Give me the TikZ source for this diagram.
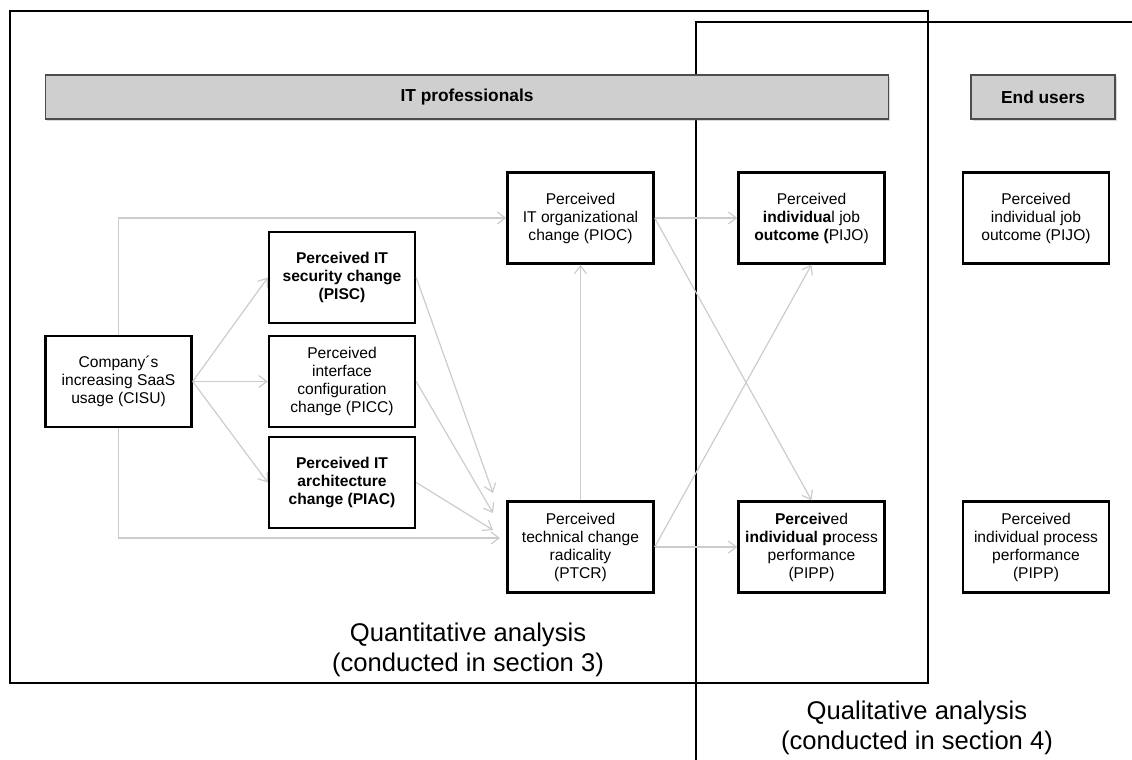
\documentclass[tikz,border=0pt]{standalone}
\usepackage{fontspec}
\setmainfont{Liberation Sans}
\usetikzlibrary{arrows.meta,shadows}

\begin{document}
\begin{tikzpicture}[x=0.75pt,y=-0.75pt]
          \tikzstyle{every node}=[font=\fontsize{11.7}{13.5}\selectfont]
          \tikzstyle{factor}=[draw,line width=1.8pt,fill=white,align=center,inner sep=1pt,
                              minimum width=109.5pt,minimum height=68.25pt,
                              drop shadow={shadow xshift=1pt,shadow yshift=-1pt,opacity=0.2}]
          \tikzstyle{header}=[draw=black!70,line width=0.8pt,fill=black!19,minimum height=33pt,
                              font=\bfseries\fontsize{13}{15}\selectfont,
                              drop shadow={shadow xshift=1.2pt,shadow yshift=-1.2pt,opacity=0.3}]
          \tikzstyle{frame}=[line width=1.5pt]
          \tikzstyle{link}=[draw=black!20,line width=0.9pt,-{Straight Barb[length=6pt,width=9pt]}]
          \tikzstyle{caption}=[font=\fontsize{19.2}{23}\selectfont,align=center]
          \useasboundingbox (0,0) rectangle (1132,760);
          % analysis frames
          \draw[frame] (10,11) rectangle (928,683);
          \draw[frame] (696,760) -- (696,22) -- (1132,22);
          % groups
          \node[header,minimum width=632pt] (itpro) at (467,97) {IT professionals};
          \node[header,minimum width=108pt] (endusers) at (1043,97) {End users};
          % constructs
          \node[factor] (CISU) at (118.5,381.5) {Company´s\\increasing SaaS\\usage (CISU)};
          \node[factor,font=\bfseries\fontsize{11.7}{13.5}\selectfont] (PISC) at (342,277.5) {Perceived IT\\security change\\(PISC)};
          \node[factor] (PICC) at (342,381.5) {Perceived\\interface\\configuration\\change (PICC)};
          \node[factor,font=\bfseries\fontsize{11.7}{13.5}\selectfont] (PIAC) at (342,482.5) {Perceived IT\\architecture\\change (PIAC)};
          \node[factor] (PIOC) at (580.5,218) {Perceived\\IT organizational\\change (PIOC)};
          \node[factor] (PTCR) at (580.5,547) {Perceived\\technical change\\radicality\\(PTCR)};
          \node[factor] (PIJO) at (811.5,218) {Perceived\\\textbf{individua}l job\\\textbf{outcome (}PIJO)};
          \node[factor] (PIPP) at (811.5,547) {\textbf{Perceiv}ed\\\textbf{individual p}rocess\\performance\\(PIPP)};
          \node[factor] (PIJOend) at (1036,218) {Perceived\\individual job\\outcome (PIJO)};
          \node[factor] (PIPPend) at (1036,547) {Perceived\\individual process\\performance\\(PIPP)};
          % arrow ends left of PTCR
          \coordinate (ptcrA) at (493,493);
          \coordinate (ptcrB) at (493,513);
          \coordinate (ptcrC) at (493,530);
          \coordinate (ptcrD) at (500,538);
          % connectors
          \draw[link] (CISU.north) |- (PIOC.west);
          \draw[link] (CISU.south) |- (ptcrD);
          \draw[link] (CISU.east) -- (PISC.west);
          \draw[link] (CISU.east) -- (PICC.west);
          \draw[link] (CISU.east) -- (PIAC.west);
          \draw[link] (PISC.east) -- (ptcrA);
          \draw[link] (PICC.east) -- (ptcrB);
          \draw[link] (PIAC.east) -- (ptcrC);
          \draw[link] (PTCR.north) -- (PIOC.south);
          \draw[link] (PIOC.east) -- (PIJO.west);
          \draw[link] (PIOC.east) -- (PIPP.north);
          \draw[link] (PTCR.east) -- (PIJO.south);
          \draw[link] (PTCR.east) -- (PIPP.west);
          % analysis labels
          \node[caption] (quant) at (468,650) {Quantitative analysis\\(conducted in section 3)};
          \node[caption] (qual) at (917,728) {Qualitative analysis\\(conducted in section 4)};
      \end{tikzpicture}
\end{document}
